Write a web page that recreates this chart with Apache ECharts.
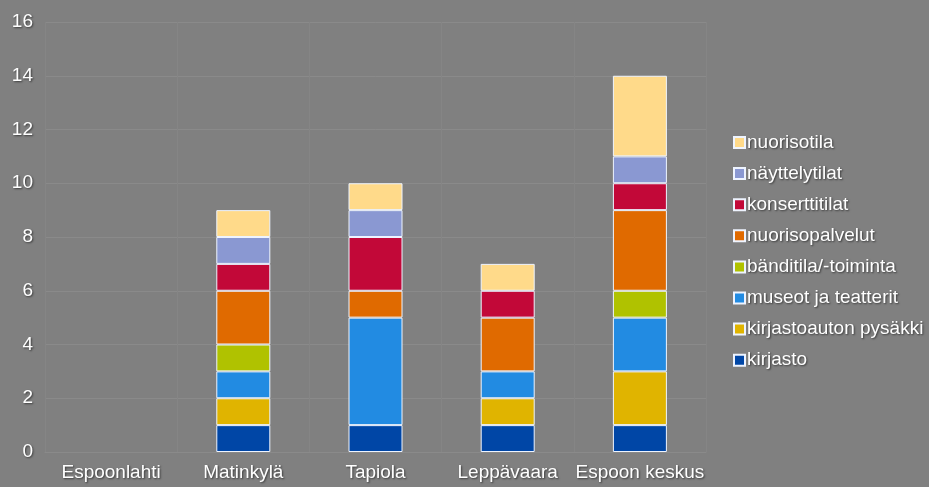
<!DOCTYPE html>
<html><head><meta charset="utf-8">
<script src="https://cdn.jsdelivr.net/npm/echarts@6/dist/echarts.min.js"></script>
<style>html,body{margin:0;padding:0;background:#808080;}#c{width:929px;height:487px;}</style>
</head><body><div id="c"></div>
<script>
const categories = ['Espoonlahti', 'Matinkylä', 'Tapiola', 'Leppävaara', 'Espoon keskus'];
const seriesNames = ['kirjasto', 'kirjastoauton pysäkki', 'museot ja teatterit', 'bänditila/-toiminta', 'nuorisopalvelut', 'konserttitilat', 'näyttelytilat', 'nuorisotila'];
const kirjasto = [0, 1, 1, 1, 1];
const kirjastoauto = [0, 1, 0, 1, 2];
const museot = [0, 1, 4, 1, 2];
const banditila = [0, 1, 0, 0, 1];
const nuorisopalvelut = [0, 2, 1, 2, 3];
const konsertti = [0, 1, 2, 1, 1];
const nayttely = [0, 1, 1, 0, 1];
const nuorisotila = [0, 1, 1, 1, 3];
const yTicks = [0, 2, 4, 6, 8, 10, 12, 14, 16];
const colors = ['#0046a6', '#e0b400', '#228be2', '#b0c200', '#e06a00', '#c20838', '#8a98d2', '#ffda8a'];
const values = [kirjasto, kirjastoauto, museot, banditila, nuorisopalvelut, konsertti, nayttely, nuorisotila];

const FS = 19;
const shadow = {textShadowColor: 'rgba(0,0,0,0.55)', textShadowBlur: 2, textShadowOffsetX: 1, textShadowOffsetY: 1};
const chart = echarts.init(document.getElementById('c'));
chart.setOption({
  backgroundColor: '#808080',
  animation: false,
  grid: {left: 45, right: 223, top: 22, bottom: 35},
  legend: {
    orient: 'vertical', left: 728, top: 128,
    data: seriesNames.slice().reverse(),
    itemWidth: 11, itemHeight: 11, itemGap: 12.1,
    icon: 'rect',
    textStyle: Object.assign({color: '#ffffff', fontSize: FS, fontFamily: 'Liberation Sans', padding: [0,0,0,-3]}, shadow)
  },
  xAxis: {
    type: 'category', data: categories,
    axisLine: {show: true, lineStyle: {color: '#8a8a8a'}},
    axisTick: {show: false},
    splitLine: {show: true, lineStyle: {color: '#858585'}},
    axisLabel: Object.assign({color: '#ffffff', fontSize: FS, fontFamily: 'Liberation Sans', margin: 11, interval: 0}, shadow)
  },
  yAxis: {
    type: 'value', min: yTicks[0], max: yTicks[yTicks.length-1], interval: 2,
    axisLine: {show: false}, axisTick: {show: false},
    splitLine: {lineStyle: {color: '#8a8a8a'}},
    axisLabel: Object.assign({color: '#ffffff', fontSize: FS, fontFamily: 'Liberation Sans', margin: 12, padding: [4, 0, 0, 0]}, shadow)
  },
  series: seriesNames.map((n, i) => ({
    name: n, type: 'bar', stack: 'total', barWidth: 54,
    data: values[i].map(v => v === 0 ? null : v),
    itemStyle: {color: colors[i], borderColor: '#eef4ff', borderWidth: 1}
  }))
});
</script></body></html>
